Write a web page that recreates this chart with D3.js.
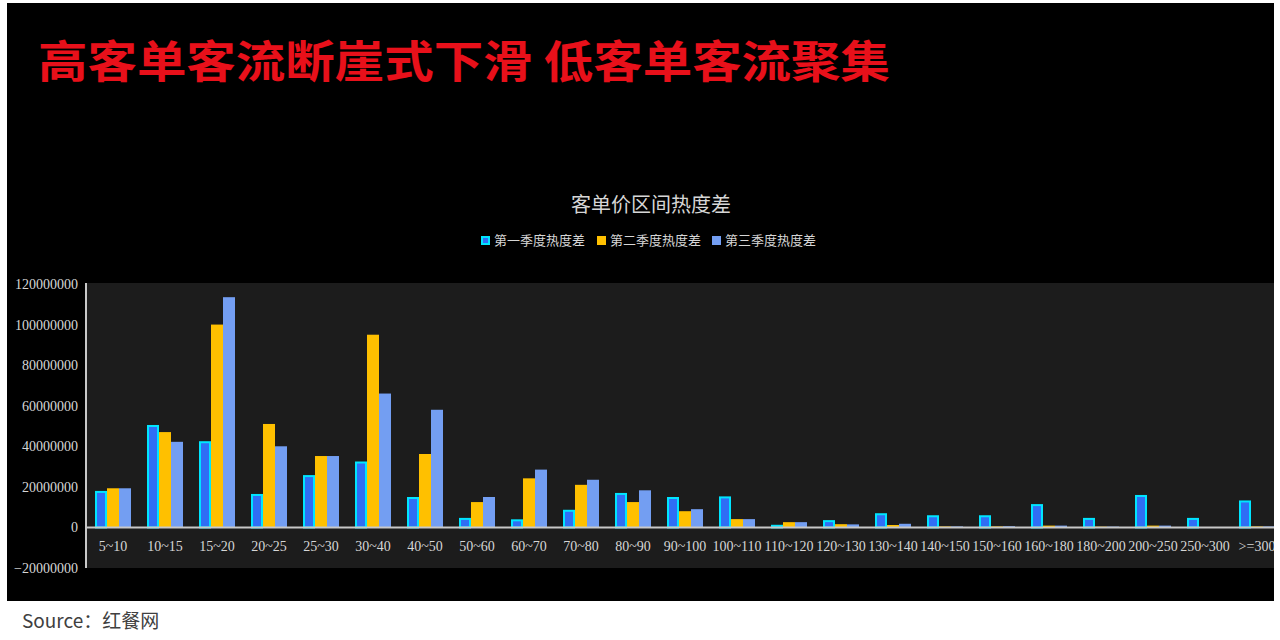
<title>客单价区间热度差</title>

<script src="https://cdnjs.cloudflare.com/ajax/libs/d3/7.8.5/d3.min.js"></script>
<style>
    html, body {
      margin: 0;
      padding: 0;
      background: #ffffff;
    }
</style>

<body>
    <div id="chart"></div>
</body>

<script>
    // price ranges (yuan) and the three quarterly heat differences
    var categories = ["5~10", "10~15", "15~20", "20~25", "25~30", "30~40", "40~50", "50~60",
        "60~70", "70~80", "80~90", "90~100", "100~110", "110~120", "120~130", "130~140",
        "140~150", "150~160", "160~180", "180~200", "200~250", "250~300", ">=300"];

    var q1 = [18000000, 50500000, 42500000, 16500000, 25800000, 32500000, 15000000, 4700000,
        4000000, 8700000, 17000000, 15000000, 15300000, 1300000, 3600000, 7000000,
        6000000, 6000000, 11500000, 4700000, 16000000, 4700000, 13300000];
    var q2 = [19300000, 47000000, 100000000, 51000000, 35200000, 95000000, 36200000, 12500000,
        24200000, 21000000, 12500000, 8000000, 4100000, 2600000, 1600000, 1200000,
        500000, 500000, 900000, 400000, 900000, 0, 500000];
    var q3 = [19300000, 42200000, 113500000, 40000000, 35200000, 66000000, 58000000, 15000000,
        28500000, 23500000, 18300000, 9000000, 4100000, 2600000, 1500000, 1800000,
        500000, 600000, 900000, 400000, 900000, 0, 500000];

    var seriesNames = ["第一季度热度差", "第二季度热度差", "第三季度热度差"];
    var yTicks = [-20000000, 0, 20000000, 40000000, 60000000, 80000000, 100000000, 120000000];

    var W = 1280, H = 640;
    var serif = "'Liberation Serif', 'DejaVu Serif', serif";
    var cjk = "'Noto Sans CJK SC', sans-serif";

    var svg = d3.select("#chart")
        .append("svg")
            .attr("width", W)
            .attr("height", H);

    // black panel
    svg.append("rect")
        .attr("x", 7).attr("y", 3)
        .attr("width", 1267).attr("height", 598)
        .attr("fill", "#000000");

    svg.append("defs").append("clipPath")
        .attr("id", "panel")
        .append("rect")
            .attr("x", 7).attr("y", 3)
            .attr("width", 1267).attr("height", 598);

    // big red headline
    svg.append("text")
        .attr("x", 38)
        .attr("y", 78)
        .attr("textLength", 852)
        .attr("lengthAdjust", "spacingAndGlyphs")
        .attr("font-family", cjk)
        .attr("font-weight", "bold")
        .attr("font-size", 44)
        .attr("fill", "#e8101a")
        .text("高客单客流断崖式下滑 低客单客流聚集");

    // chart title
    svg.append("text")
        .attr("x", 651)
        .attr("y", 212)
        .attr("text-anchor", "middle")
        .attr("font-family", cjk)
        .attr("font-size", 20)
        .attr("fill", "#d6d6d6")
        .text("客单价区间热度差");

    var colors = ["#2f6ef5", "#ffc000", "#739ef2"];

    // legend
    var legendX = [481, 597, 712];
    var legend = svg.append("g");
    seriesNames.forEach(function (name, i) {
        legend.append("rect")
            .attr("x", legendX[i] + (i == 0 ? 1 : 0))
            .attr("y", 236 + (i == 0 ? 1 : 0))
            .attr("width", i == 0 ? 7 : 9)
            .attr("height", i == 0 ? 7 : 9)
            .attr("fill", colors[i])
            .attr("stroke", i == 0 ? "#00e5ff" : "none")
            .attr("stroke-width", 2);
        legend.append("text")
            .attr("x", legendX[i] + 13)
            .attr("y", 245)
            .attr("font-family", cjk)
            .attr("font-size", 13)
            .attr("fill", "#d6d6d6")
            .text(name);
    });

    // plot area
    var plot = {left: 86, top: 283, bottom: 568, right: 1282};

    svg.append("rect")
        .attr("x", plot.left).attr("y", plot.top)
        .attr("width", 1274 - plot.left).attr("height", plot.bottom - plot.top)
        .attr("fill", "#1c1c1c");

    var x = d3.scaleBand()
        .domain(categories)
        .range([plot.left, plot.right]);

    var y = d3.scaleLinear()
        .domain([-20000000, 120000000])
        .range([plot.bottom, plot.top + 1]);

    // y axis labels
    var yAxis = svg.append("g")
        .attr("transform", "translate(" + plot.left + ",0)")
        .call(d3.axisLeft(y).tickValues(yTicks).tickSize(0).tickPadding(8).tickFormat(d3.format("d")));
    yAxis.select(".domain").remove();
    yAxis.selectAll("text")
        .attr("font-family", serif)
        .attr("font-size", 14)
        .attr("fill", "#d6d6d6");

    // bars
    var barW = 12;
    var bars = svg.append("g").attr("clip-path", "url(#panel)");
    [q1, q2, q3].forEach(function (vals, s) {
        bars.selectAll(".s" + s)
            .data(vals)
            .enter()
            .append("rect")
            .attr("x", function (d, i) { return x(categories[i]) + (x.bandwidth() - 3 * barW) / 2 + 1 + s * barW + (s == 0 ? 1 : 0); })
            .attr("y", function (d) { return y(d) + (s == 0 ? 1 : 0); })
            .attr("width", s == 0 ? barW - 2 : barW)
            .attr("height", function (d) { return Math.max(0, y(0) - y(d) - (s == 0 ? 1 : 0)); })
            .attr("fill", colors[s])
            .attr("stroke", s == 0 ? "#00e5ff" : "none")
            .attr("stroke-width", 2);
    });

    // zero line and y axis line
    svg.append("line")
        .attr("x1", plot.left).attr("x2", 1274)
        .attr("y1", y(0)).attr("y2", y(0))
        .attr("stroke", "#c8c8c8")
        .attr("stroke-width", 2);

    svg.append("line")
        .attr("x1", plot.left).attr("x2", plot.left)
        .attr("y1", plot.top).attr("y2", plot.bottom)
        .attr("stroke", "#c8c8c8")
        .attr("stroke-width", 2);

    // category labels
    svg.append("g")
        .attr("clip-path", "url(#panel)")
        .selectAll("text")
        .data(categories)
        .enter()
        .append("text")
        .attr("x", function (d) { return x(d) + x.bandwidth() / 2 + 1; })
        .attr("y", 551)
        .attr("text-anchor", "middle")
        .attr("font-family", serif)
        .attr("font-size", 14)
        .attr("fill", "#d6d6d6")
        .text(function (d) { return d; });

    // source
    svg.append("text")
        .attr("x", 22)
        .attr("y", 628)
        .attr("font-family", cjk)
        .attr("font-size", 19)
        .attr("fill", "#404040")
        .text("Source：红餐网");
</script>
